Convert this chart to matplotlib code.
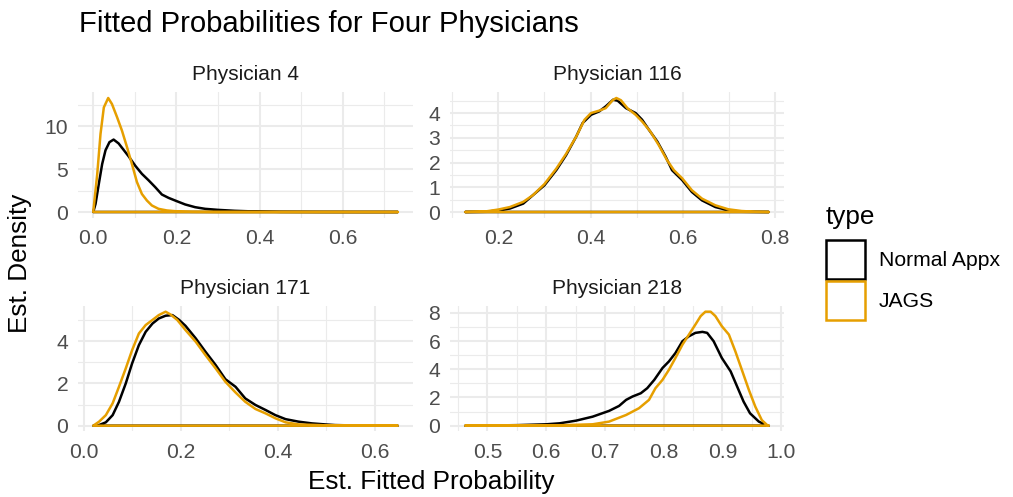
import matplotlib
matplotlib.use("Agg")
import matplotlib.pyplot as plt
from matplotlib.patches import Patch
from matplotlib.ticker import MultipleLocator, FormatStrFormatter

plt.rcParams["font.family"] = ["Liberation Sans", "DejaVu Sans"]

panel_titles = ["Physician 4", "Physician 116", "Physician 171", "Physician 218"]
type_labels = ["Normal Appx", "JAGS"]
type_colors = ["#000000", "#E69F00"]

# --- density curves (x = fitted prob, y = density) ---
p4_normal_x = [0.0, 0.0056, 0.0135, 0.0215, 0.0295, 0.039, 0.049, 0.061, 0.073, 0.085,
               0.101, 0.117, 0.133, 0.149, 0.165, 0.181, 0.201, 0.221, 0.245, 0.269,
               0.30, 0.34, 0.388, 0.45, 0.55, 0.65, 0.732]
p4_normal_y = [0.0, 0.95, 3.3, 5.6, 7.2, 8.15, 8.45, 8.0, 7.25, 6.5,
               5.4, 4.45, 3.7, 2.9, 2.04, 1.65, 1.26, 0.88, 0.56, 0.37,
               0.25, 0.14, 0.06, 0.02, 0.005, 0.0, 0.0]
p4_jags_x = [0.0, 0.0096, 0.0175, 0.0255, 0.036, 0.045, 0.057, 0.069, 0.081, 0.093,
             0.105, 0.117, 0.129, 0.141, 0.157, 0.177, 0.205, 0.237, 0.30, 0.732]
p4_jags_y = [0.0, 4.4, 9.1, 12.2, 13.3, 12.6, 11.1, 9.5, 7.6, 5.6,
             3.5, 2.1, 1.34, 0.76, 0.37, 0.18, 0.06, 0.02, 0.0, 0.0]

p116_normal_x = [0.128, 0.175, 0.2, 0.225, 0.254, 0.275, 0.3, 0.326, 0.347, 0.369,
                 0.383, 0.401, 0.419, 0.433, 0.449, 0.459, 0.477, 0.498, 0.512, 0.527,
                 0.545, 0.563, 0.577, 0.599, 0.62, 0.642, 0.671, 0.699, 0.728, 0.787]
p116_normal_y = [0.0, 0.01, 0.07, 0.14, 0.34, 0.68, 1.08, 1.7, 2.3, 3.05,
                 3.6, 3.93, 4.07, 4.27, 4.54, 4.5, 4.2, 4.0, 3.73, 3.32,
                 2.85, 2.24, 1.69, 1.29, 0.81, 0.47, 0.2, 0.07, 0.01, 0.0]
p116_jags_x = [0.128, 0.175, 0.2, 0.225, 0.254, 0.275, 0.3, 0.326, 0.347, 0.369,
               0.387, 0.401, 0.419, 0.433, 0.448, 0.456, 0.466, 0.48, 0.498, 0.512,
               0.53, 0.548, 0.566, 0.581, 0.599, 0.62, 0.642, 0.671, 0.699, 0.728,
               0.757, 0.787]
p116_jags_y = [0.0, 0.03, 0.1, 0.2, 0.41, 0.68, 1.13, 1.76, 2.35, 3.05,
               3.73, 4.0, 4.1, 4.2, 4.52, 4.61, 4.52, 4.2, 3.93, 3.66,
               3.25, 2.71, 2.1, 1.69, 1.36, 0.88, 0.54, 0.27, 0.11, 0.04,
               0.01, 0.0]

p171_normal_x = [0.02, 0.032, 0.046, 0.06, 0.073, 0.087, 0.1, 0.114, 0.128, 0.142,
                 0.155, 0.169, 0.183, 0.197, 0.21, 0.231, 0.251, 0.272, 0.292, 0.313,
                 0.333, 0.354, 0.375, 0.395, 0.416, 0.443, 0.47, 0.498, 0.518, 0.56, 0.647]
p171_normal_y = [0.0, 0.03, 0.16, 0.5, 1.13, 2.0, 2.94, 3.81, 4.44, 4.83,
                 5.07, 5.2, 5.23, 5.0, 4.72, 4.13, 3.5, 2.87, 2.2, 1.84,
                 1.29, 0.98, 0.74, 0.5, 0.31, 0.19, 0.11, 0.06, 0.03, 0.01, 0.0]
p171_jags_x = [0.02, 0.032, 0.046, 0.06, 0.073, 0.087, 0.1, 0.114, 0.128, 0.142,
               0.155, 0.169, 0.179, 0.193, 0.21, 0.231, 0.251, 0.272, 0.292, 0.313,
               0.333, 0.354, 0.375, 0.395, 0.416, 0.443, 0.484, 0.507, 0.647]
p171_jags_y = [0.0, 0.19, 0.5, 1.06, 1.84, 2.71, 3.57, 4.36, 4.76, 5.0,
               5.23, 5.39, 5.26, 5.0, 4.52, 3.97, 3.34, 2.71, 2.08, 1.57,
               1.13, 0.79, 0.58, 0.35, 0.16, 0.06, 0.03, 0.01, 0.0]

p218_normal_x = [0.462, 0.5, 0.55, 0.6, 0.623, 0.651, 0.679, 0.707, 0.724, 0.736,
                 0.747, 0.761, 0.772, 0.784, 0.798, 0.809, 0.82, 0.832, 0.843, 0.854,
                 0.866, 0.874, 0.885, 0.899, 0.914, 0.925, 0.936, 0.947, 0.962, 0.976, 0.979]
p218_normal_y = [0.0, 0.01, 0.04, 0.1, 0.17, 0.36, 0.64, 1.05, 1.4, 1.83,
                 2.07, 2.3, 2.66, 3.25, 4.09, 4.56, 5.15, 5.99, 6.34, 6.58,
                 6.65, 6.58, 5.99, 4.8, 3.85, 2.78, 1.71, 0.88, 0.29, 0.02, 0.0]
p218_jags_x = [0.462, 0.6, 0.623, 0.679, 0.707, 0.736, 0.758, 0.775, 0.786, 0.798,
               0.809, 0.82, 0.832, 0.843, 0.854, 0.863, 0.871, 0.88, 0.888, 0.899,
               0.911, 0.922, 0.933, 0.945, 0.956, 0.967, 0.976, 0.979]
p218_jags_y = [0.0, 0.01, 0.03, 0.1, 0.29, 0.76, 1.24, 1.83, 2.66, 3.25,
               3.97, 4.8, 5.75, 6.46, 7.17, 7.77, 8.08, 8.08, 7.77, 7.05,
               6.46, 5.27, 3.97, 2.54, 1.35, 0.4, 0.05, 0.0]

curves = [
    [(p4_normal_x, p4_normal_y), (p4_jags_x, p4_jags_y)],
    [(p116_normal_x, p116_normal_y), (p116_jags_x, p116_jags_y)],
    [(p171_normal_x, p171_normal_y), (p171_jags_x, p171_jags_y)],
    [(p218_normal_x, p218_normal_y), (p218_jags_x, p218_jags_y)],
]

# tick steps per panel: (x major, x minor, y major, y minor)
tick_steps = [(0.2, 0.1, 5, 2.5), (0.2, 0.1, 1, 0.5), (0.2, 0.1, 2, 1), (0.1, 0.05, 2, 1)]

W, H = 1013, 497
fig = plt.figure(figsize=(W / 100, H / 100), dpi=100)

# panel boxes in pixels: left, top, width, height
boxes = [(78, 92.3, 335, 125.4), (450, 92.3, 334, 125.4),
         (78, 306.0, 335, 125.4), (450, 306.0, 334, 125.4)]

for i, (l, t, w, h) in enumerate(boxes):
    ax = fig.add_axes([l / W, 1 - (t + h) / H, w / W, h / H])
    for (xs, ys), c in zip(curves[i], type_colors):
        ax.fill(xs, ys, facecolor="none", edgecolor=c, lw=1.8, joinstyle="round")
    ax.margins(x=0.05, y=0.05)
    xmaj, xmin, ymaj, ymin = tick_steps[i]
    ax.xaxis.set_major_locator(MultipleLocator(xmaj))
    ax.xaxis.set_minor_locator(MultipleLocator(xmin))
    ax.yaxis.set_major_locator(MultipleLocator(ymaj))
    ax.yaxis.set_minor_locator(MultipleLocator(ymin))
    ax.xaxis.set_major_formatter(FormatStrFormatter("%.1f"))
    ax.yaxis.set_major_formatter(FormatStrFormatter("%g"))
    ax.grid(which="major", color="#EBEBEB", lw=1.5)
    ax.grid(which="minor", color="#EBEBEB", lw=0.8)
    ax.set_axisbelow(True)
    for s in ax.spines.values():
        s.set_visible(False)
    ax.tick_params(which="both", length=0)
    ax.tick_params(axis="x", pad=8, labelsize=15.2, labelcolor="#4D4D4D")
    ax.tick_params(axis="y", pad=7, labelsize=15.2, labelcolor="#4D4D4D")
    ax.set_title(panel_titles[i], fontsize=15, color="#1A1A1A", pad=9)

fig.text(79 / W, 1 - 32 / H, "Fitted Probabilities for Four Physicians",
         fontsize=21.1, va="baseline", ha="left")
fig.text(431 / W, 1 - 482 / H, "Est. Fitted Probability", fontsize=18.8,
         ha="center", va="center")
fig.text(20 / W, 1 - 263 / H, "Est. Density", fontsize=18.8, rotation=90,
         ha="center", va="center")

# legend: title as its own text, keys below it
fig.text(826 / W, 1 - 217 / H, "type", fontsize=18.8, ha="left", va="center")
handles = [Patch(facecolor="none", edgecolor=c, lw=1.8) for c in type_colors]
leg = fig.legend(handles, type_labels, loc="upper left",
                 bbox_to_anchor=(826 / W, 1 - 240 / H), frameon=False,
                 fontsize=15.2, handlelength=1.85,
                 handleheight=2.45, labelspacing=0.1, handletextpad=0.65,
                 borderaxespad=0, borderpad=0)

fig.savefig("out.png", dpi=100)
